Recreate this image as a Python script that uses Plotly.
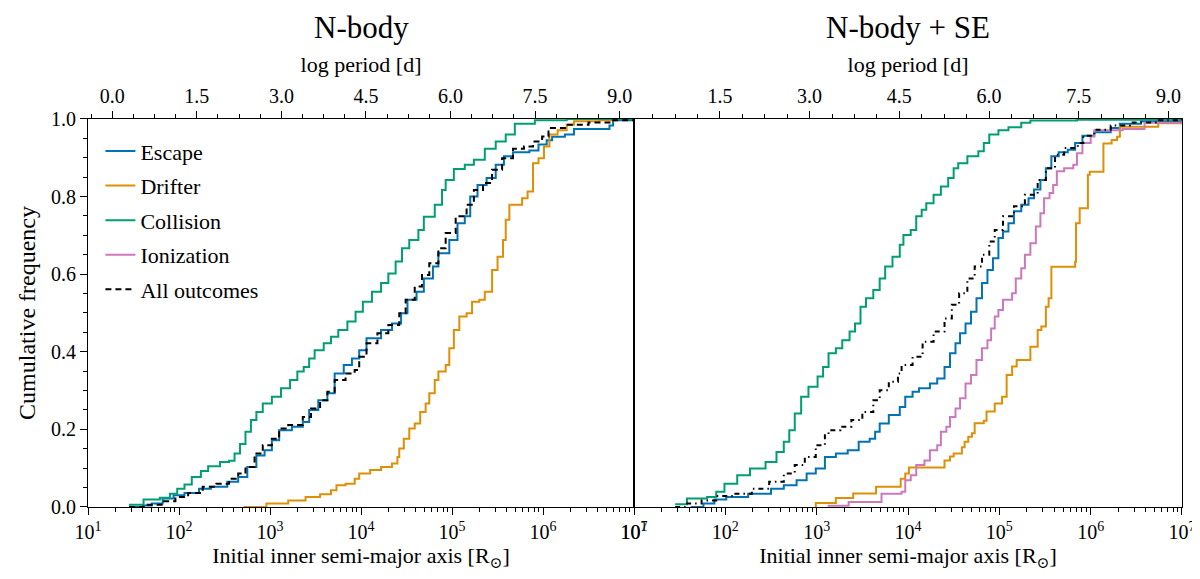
import numpy as np
import plotly.graph_objects as go

## step CDFs: log10(a / Rsun) where each step happens, cumulative fraction after it ##

# N-body panel
esc_nb_la = [1.45, 1.61, 1.70, 1.82, 1.94, 2.06, 2.22, 2.35, 2.53, 2.65,
             2.75, 2.85, 2.94, 3.02, 3.10, 3.24, 3.36, 3.43, 3.53, 3.63,
             3.71, 3.81, 3.90, 3.98, 4.06, 4.22, 4.34, 4.44, 4.51, 4.61,
             4.69, 4.79, 4.85, 4.97, 5.06, 5.14, 5.20, 5.28, 5.38, 5.48,
             5.57, 5.67, 5.85, 5.95, 6.04, 6.10, 6.24, 6.34, 6.73, 6.77, 7.00]
esc_nb_cf = [0.000, 0.004, 0.009, 0.022, 0.030, 0.036, 0.047, 0.052, 0.065, 0.077,
             0.103, 0.133, 0.146, 0.172, 0.198, 0.207, 0.219, 0.250, 0.275, 0.293,
             0.344, 0.366, 0.383, 0.404, 0.435, 0.456, 0.473, 0.499, 0.534, 0.555,
             0.589, 0.620, 0.654, 0.688, 0.731, 0.749, 0.800, 0.830, 0.848, 0.882,
             0.904, 0.914, 0.919, 0.934, 0.945, 0.954, 0.960, 0.974, 0.983, 0.997, 0.997]

dri_nb_la = [2.71, 2.96, 3.20, 3.39, 3.55, 3.67, 3.73, 3.83, 3.93, 3.98,
             4.10, 4.22, 4.34, 4.40, 4.42, 4.47, 4.53, 4.59, 4.65, 4.71,
             4.75, 4.81, 4.85, 4.93, 4.97, 5.02, 5.08, 5.16, 5.22, 5.30,
             5.36, 5.44, 5.50, 5.56, 5.59, 5.63, 5.77, 5.83, 5.89, 5.95,
             6.01, 6.07, 6.16, 6.26, 6.34, 6.62, 6.79, 7.00]
dri_nb_cf = [0.000, 0.009, 0.017, 0.026, 0.033, 0.043, 0.056, 0.060, 0.073, 0.086,
             0.095, 0.103, 0.112, 0.129, 0.151, 0.176, 0.202, 0.215, 0.245, 0.267,
             0.293, 0.327, 0.349, 0.366, 0.409, 0.456, 0.491, 0.499, 0.529, 0.534,
             0.555, 0.611, 0.645, 0.688, 0.740, 0.779, 0.796, 0.813, 0.886, 0.899,
             0.929, 0.960, 0.971, 0.985, 0.994, 0.997, 1.000, 1.000]

col_nb_la = [1.45, 1.61, 1.79, 1.90, 1.98, 2.06, 2.14, 2.24, 2.32, 2.45,
             2.55, 2.61, 2.67, 2.73, 2.79, 2.85, 2.92, 3.02, 3.12, 3.22,
             3.30, 3.37, 3.43, 3.49, 3.59, 3.67, 3.75, 3.85, 3.94, 4.02,
             4.12, 4.22, 4.30, 4.38, 4.45, 4.53, 4.63, 4.69, 4.81, 4.89,
             4.93, 5.02, 5.14, 5.24, 5.36, 5.48, 5.59, 5.69, 5.91, 6.26, 7.00]
col_nb_cf = [0.006, 0.019, 0.024, 0.034, 0.047, 0.058, 0.077, 0.093, 0.105, 0.116,
             0.119, 0.138, 0.162, 0.194, 0.224, 0.245, 0.267, 0.284, 0.306, 0.327,
             0.349, 0.361, 0.383, 0.404, 0.422, 0.439, 0.456, 0.478, 0.503, 0.529,
             0.555, 0.577, 0.602, 0.633, 0.667, 0.688, 0.714, 0.748, 0.779, 0.817,
             0.843, 0.871, 0.882, 0.895, 0.923, 0.942, 0.960, 0.988, 0.997, 1.000, 1.000]

all_nb_la = [1.45, 1.61, 1.82, 1.96, 2.10, 2.26, 2.41, 2.55, 2.65, 2.73,
             2.83, 2.92, 3.02, 3.10, 3.20, 3.36, 3.45, 3.55, 3.63, 3.71,
             3.83, 3.93, 3.98, 4.06, 4.18, 4.30, 4.42, 4.49, 4.59, 4.67,
             4.75, 4.85, 4.93, 5.04, 5.16, 5.24, 5.34, 5.44, 5.55, 5.67,
             5.79, 5.89, 5.99, 6.06, 6.26, 6.50, 6.73, 7.00]
all_nb_cf = [0.000, 0.006, 0.015, 0.026, 0.036, 0.052, 0.060, 0.073, 0.086, 0.103,
             0.138, 0.159, 0.176, 0.202, 0.211, 0.232, 0.254, 0.275, 0.297, 0.327,
             0.344, 0.353, 0.387, 0.422, 0.448, 0.469, 0.499, 0.534, 0.568, 0.598,
             0.628, 0.667, 0.706, 0.749, 0.779, 0.817, 0.835, 0.869, 0.899, 0.923,
             0.929, 0.942, 0.955, 0.977, 0.985, 0.991, 0.997, 1.000]

# N-body + SE panel
esc_se_la = [1.62, 1.76, 1.88, 2.01, 2.25, 2.50, 2.64, 2.78, 2.89, 2.99,
             3.09, 3.21, 3.34, 3.46, 3.58, 3.64, 3.69, 3.79, 3.91, 3.97,
             4.05, 4.12, 4.24, 4.32, 4.40, 4.46, 4.52, 4.57, 4.63, 4.69,
             4.75, 4.81, 4.87, 4.93, 4.99, 5.04, 5.10, 5.16, 5.24, 5.32,
             5.38, 5.45, 5.51, 5.57, 5.65, 5.75, 5.83, 5.91, 6.04, 6.22,
             6.32, 6.55, 7.00]
esc_se_cf = [0.000, 0.009, 0.019, 0.026, 0.034, 0.047, 0.056, 0.069, 0.086, 0.099,
             0.129, 0.138, 0.146, 0.168, 0.176, 0.194, 0.215, 0.237, 0.258, 0.284,
             0.297, 0.306, 0.318, 0.331, 0.361, 0.396, 0.422, 0.448, 0.473, 0.503,
             0.538, 0.577, 0.611, 0.641, 0.693, 0.710, 0.731, 0.762, 0.779, 0.796,
             0.818, 0.843, 0.873, 0.904, 0.914, 0.921, 0.938, 0.957, 0.966, 0.977,
             0.988, 0.994, 0.998]

dri_se_la = [2.99, 2.99, 3.21, 3.40, 3.65, 3.92, 3.97, 4.01, 4.40, 4.46,
             4.50, 4.59, 4.62, 4.66, 4.70, 4.73, 4.83, 4.86, 4.95, 5.03,
             5.08, 5.14, 5.19, 5.34, 5.42, 5.46, 5.51, 5.54, 5.57, 5.83,
             5.84, 5.88, 5.97, 5.99, 6.14, 6.23, 6.29, 6.32, 6.74, 7.00]
dri_se_cf = [0.000, 0.010, 0.023, 0.035, 0.052, 0.073, 0.086, 0.102, 0.120, 0.130,
             0.138, 0.154, 0.168, 0.181, 0.190, 0.216, 0.222, 0.246, 0.267, 0.284,
             0.340, 0.362, 0.379, 0.413, 0.456, 0.465, 0.516, 0.538, 0.619, 0.632,
             0.731, 0.770, 0.856, 0.864, 0.937, 0.946, 0.954, 0.980, 0.989, 0.989]

col_se_la = [1.45, 1.58, 1.80, 1.90, 1.99, 2.13, 2.27, 2.44, 2.56, 2.64,
             2.70, 2.76, 2.83, 2.91, 3.01, 3.07, 3.13, 3.21, 3.28, 3.36,
             3.42, 3.48, 3.54, 3.62, 3.69, 3.75, 3.83, 3.91, 3.95, 4.03,
             4.09, 4.15, 4.20, 4.28, 4.36, 4.44, 4.50, 4.55, 4.65, 4.77,
             4.83, 4.89, 4.99, 5.10, 5.24, 5.34, 5.85, 7.00]
col_se_cf = [0.007, 0.022, 0.026, 0.039, 0.060, 0.082, 0.099, 0.116, 0.142, 0.168,
             0.198, 0.241, 0.284, 0.310, 0.336, 0.361, 0.396, 0.409, 0.430, 0.452,
             0.473, 0.516, 0.538, 0.559, 0.589, 0.620, 0.645, 0.676, 0.701, 0.714,
             0.749, 0.766, 0.783, 0.805, 0.826, 0.848, 0.873, 0.886, 0.904, 0.917,
             0.938, 0.960, 0.971, 0.979, 0.990, 0.996, 0.998, 1.000]

ion_se_la = [3.12, 3.35, 3.71, 3.93, 3.97, 4.03, 4.09, 4.18, 4.24, 4.32,
             4.36, 4.42, 4.46, 4.52, 4.57, 4.63, 4.69, 4.75, 4.81, 4.87,
             4.91, 4.95, 4.99, 5.04, 5.14, 5.18, 5.24, 5.28, 5.34, 5.40,
             5.45, 5.49, 5.55, 5.59, 5.63, 5.71, 5.81, 5.85, 5.91, 6.00,
             6.04, 6.35, 6.59, 7.00]
ion_se_cf = [0.003, 0.013, 0.034, 0.039, 0.069, 0.082, 0.108, 0.120, 0.146, 0.159,
             0.194, 0.207, 0.232, 0.254, 0.280, 0.318, 0.340, 0.379, 0.409, 0.430,
             0.460, 0.491, 0.508, 0.534, 0.551, 0.589, 0.615, 0.650, 0.680, 0.723,
             0.757, 0.796, 0.809, 0.830, 0.865, 0.873, 0.882, 0.912, 0.938, 0.955,
             0.971, 0.974, 0.990, 0.997]

all_se_la = [1.45, 1.58, 1.74, 1.90, 2.09, 2.29, 2.48, 2.64, 2.76, 2.87,
             2.99, 3.09, 3.13, 3.26, 3.38, 3.50, 3.62, 3.69, 3.79, 3.89,
             3.93, 4.05, 4.16, 4.28, 4.40, 4.48, 4.56, 4.65, 4.73, 4.81,
             4.89, 4.95, 5.04, 5.16, 5.28, 5.42, 5.51, 5.61, 5.71, 5.86,
             5.92, 6.04, 6.22, 6.43, 6.75, 7.00]
all_se_cf = [0.000, 0.009, 0.017, 0.028, 0.034, 0.047, 0.065, 0.086, 0.108, 0.129,
             0.159, 0.185, 0.198, 0.207, 0.224, 0.245, 0.275, 0.301, 0.323, 0.344,
             0.366, 0.387, 0.426, 0.452, 0.486, 0.521, 0.551, 0.589, 0.620, 0.650,
             0.684, 0.714, 0.749, 0.775, 0.805, 0.843, 0.873, 0.908, 0.925, 0.938,
             0.957, 0.972, 0.983, 0.991, 0.997, 1.000]

## axis tick labels ##
decades = [1, 2, 3, 4, 5, 6, 7]
period_ticks = [0.0, 1.5, 3.0, 4.5, 6.0, 7.5, 9.0]

colors = {'Escape': '#0173B2', 'Drifter': '#DE8F05', 'Collision': '#029E73',
          'Ionization': '#CC78BC', 'All outcomes': 'black'}
FONT = 'Liberation Serif, DejaVu Serif, serif'

fig = go.Figure()

def add_cdf(name, la, cf, xa, ya, dash='solid', legend=True):
    fig.add_trace(go.Scatter(x=np.power(10.0, la), y=cf, mode='lines', name=name,
                             line=dict(color=colors[name], width=2, shape='hv', dash=dash),
                             xaxis=xa, yaxis=ya, showlegend=legend, legendgroup=name))

add_cdf('Escape', esc_nb_la, esc_nb_cf, 'x', 'y')
add_cdf('Drifter', dri_nb_la, dri_nb_cf, 'x', 'y')
add_cdf('Collision', col_nb_la, col_nb_cf, 'x', 'y')
# no ionization in the N-body run, it only shows up in the legend
fig.add_trace(go.Scatter(x=[None], y=[None], mode='lines', name='Ionization',
                         line=dict(color=colors['Ionization'], width=2),
                         legendgroup='Ionization'))
add_cdf('All outcomes', all_nb_la, all_nb_cf, 'x', 'y', dash='6px,4px')

add_cdf('Escape', esc_se_la, esc_se_cf, 'x2', 'y2', legend=False)
add_cdf('Drifter', dri_se_la, dri_se_cf, 'x2', 'y2', legend=False)
add_cdf('Collision', col_se_la, col_se_cf, 'x2', 'y2', legend=False)
add_cdf('Ionization', ion_se_la, ion_se_cf, 'x2', 'y2', legend=False)
add_cdf('All outcomes', all_se_la, all_se_cf, 'x2', 'y2', dash='5px,4px,1.5px,4px', legend=False)

# empty traces so the top period axes get drawn
for xa, ya in [('x3', 'y'), ('x4', 'y2')]:
    fig.add_trace(go.Scatter(x=[None], y=[None], mode='lines', xaxis=xa, yaxis=ya,
                             showlegend=False, hoverinfo='skip'))

tick_font = dict(family=FONT, size=20, color='black')
title_font = dict(family=FONT, size=22, color='black')
minor_log = [k * 10.0 ** d for d in decades[:-1] for k in range(2, 10)]

common_x = dict(type='log', range=[1, 7], tickmode='array',
                tickvals=[10.0 ** d for d in decades],
                ticktext=['10<sup>%d</sup>' % d for d in decades],
                ticks='outside', ticklen=7, tickwidth=1.3, tickcolor='black',
                minor=dict(tickmode='array', tickvals=minor_log, ticks='outside',
                           ticklen=4, tickwidth=1, tickcolor='black'),
                showline=True, linewidth=1.3, linecolor='black', mirror=True,
                showgrid=False, zeroline=False, tickfont=tick_font, automargin=False,
                title=dict(text='Initial inner semi-major axis [R<sub>⊙</sub>]',
                           font=title_font, standoff=2))

common_top = dict(side='top', tickmode='array', tickvals=period_ticks, tickformat='.1f',
                  ticks='outside', ticklen=7, tickwidth=1.3, tickcolor='black',
                  minor=dict(tick0=0, dtick=0.375, ticks='outside', ticklen=4,
                             tickwidth=1, tickcolor='black'),
                  showline=False, showgrid=False, zeroline=False, tickfont=tick_font,
                  automargin=False,
                  title=dict(text='log period [d]', font=title_font, standoff=6))

# page body adds an 8px offset, so the domains are set 8px up/left of the reference
common_y = dict(range=[0, 1], showline=True, linewidth=1.3, linecolor='black',
                mirror=True, showgrid=False, zeroline=False, automargin=False,
                domain=[0.1382, 0.8083])

left_dom = [0.0667, 0.5217]
right_dom = [0.5217, 0.9783]

fig.update_layout(
    width=1200, height=579,
    margin=dict(l=0, r=0, t=0, b=0),
    paper_bgcolor='white', plot_bgcolor='white',
    font=dict(family=FONT, color='black'),
    xaxis=dict(common_x, domain=left_dom, anchor='y'),
    xaxis2=dict(common_x, domain=right_dom, anchor='y2'),
    xaxis3=dict(common_top, overlaying='x', anchor='y', range=[-0.43, 9.255]),
    xaxis4=dict(common_top, overlaying='x2', anchor='y2', range=[0.064, 9.227]),
    yaxis=dict(common_y, anchor='x', tick0=0, dtick=0.2, tickformat='.1f',
               ticks='outside', ticklen=7, tickwidth=1.3, tickcolor='black',
               minor=dict(dtick=0.05, ticks='outside', ticklen=4, tickwidth=1,
                          tickcolor='black'),
               tickfont=tick_font,
               title=dict(text='Cumulative frequency', font=dict(title_font, size=24),
                          standoff=8)),
    yaxis2=dict(common_y, anchor='x2', showticklabels=False, ticks=''),
    legend=dict(x=0.077, y=0.789, xanchor='left', yanchor='top',
                bgcolor='rgba(255,255,255,0)', borderwidth=0,
                font=dict(family=FONT, size=22, color='black'),
                traceorder='grouped', tracegroupgap=3, itemwidth=30),
    annotations=[
        dict(text='N-body', x=sum(left_dom) / 2, y=0.966, xref='paper', yref='paper',
             showarrow=False, font=dict(family=FONT, size=31, color='black'),
             xanchor='center', yanchor='middle'),
        dict(text='N-body + SE', x=sum(right_dom) / 2, y=0.966, xref='paper', yref='paper',
             showarrow=False, font=dict(family=FONT, size=31, color='black'),
             xanchor='center', yanchor='middle'),
    ],
)

fig.write_html('out.html')
